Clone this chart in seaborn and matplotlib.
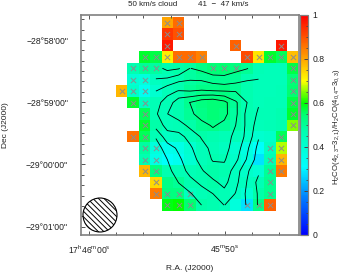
import numpy as np
import pandas as pd
import seaborn as sns
import matplotlib
matplotlib.use('Agg')
import matplotlib.pyplot as plt
from matplotlib.colors import LinearSegmentedColormap
from matplotlib.patches import Circle
from matplotlib.ticker import FixedLocator

n = np.nan

# line ratio map, one list per row (16 columns), top row first
r00 = [n, n, n, n, .80, .87, n, n, n, n, n, n, n, n, n, n]
r01 = [n, n, n, n, .93, .90, n, n, n, n, n, n, n, n, n, n]
r02 = [n, n, n, n, .97, n, n, n, n, n, .88, n, n, n, .97, n]
r03 = [n, n, .58, .57, .72, .87, .87, .84, n, n, n, .91, .73, .58, .56, .77]
r04 = [n, .47, .50, .49, .47, .48, .49, .52, .54, .55, .53, .50, .46, .45, .45, .57]
r05 = [n, .40, .38, .44, .45, .47, .49, .50, .51, .51, .50, .47, .45, .45, .45, .54]
r06 = [.78, .42, .34, .41, .45, .47, .50, .52, .52, .53, .50, .47, .45, .45, .46, .55]
r07 = [n, .58, .44, .46, .46, .47, .51, .53, .54, .54, .50, .47, .45, .46, .46, .57]
r08 = [n, n, .56, .46, .45, .47, .50, .52, .54, .53, .49, .47, .46, .46, .47, .58]
r09 = [n, n, .58, .48, .45, .46, .48, .51, .52, .50, .48, .46, .45, .46, .47, .65]
r10 = [n, .86, .56, .46, .43, .44, .46, .48, .47, .46, .45, .43, .41, .42, .56, n]
r11 = [n, n, .49, .38, .35, .36, .41, .45, .46, .44, .41, .37, .32, .44, .67, n]
r12 = [n, n, .47, .36, .32, .34, .40, .45, .47, .46, .42, .38, .28, .46, .78, n]
r13 = [n, n, .78, .53, .47, .46, .46, .47, .48, .47, .44, .42, .40, .50, .85, n]
r14 = [n, n, n, .74, .52, .50, .47, .47, .48, .46, .44, .44, .46, .51, n, n]
r15 = [n, n, n, .85, .53, .53, .44, .46, .47, .46, .43, .40, .48, .51, n, n]
r16 = [n, n, n, n, .59, .60, .55, .48, .47, .46, .38, .28, .52, .88, n, n]
ratio = pd.DataFrame([r00, r01, r02, r03, r04, r05, r06, r07, r08, r09, r10, r11, r12, r13, r14, r15, r16])

# cells flagged with an X, columns per row
flagged = {0: [4, 5], 1: [4, 5], 2: [4, 10, 14], 3: [2, 3, 4, 5, 6, 7, 11, 12, 13, 14, 15],
           4: [1, 2, 3, 8, 9, 10, 15], 5: [1, 2, 15], 6: [0, 1, 2, 15], 7: [1, 2, 15], 8: [2, 15], 9: [2, 15],
           10: [1, 2, 14], 11: [2, 3, 13, 14], 12: [2, 3, 13, 14], 13: [2, 3, 13, 14],
           14: [3, 13], 15: [3, 4, 5, 6, 13], 16: [4, 5, 6, 11, 12, 13]}

# integrated intensity behind the contours (rows 4-16, columns 3-12), one list per column
contour_rows = np.arange(4, 17)
contour_cols = np.arange(3, 13)
i03 = [.4, 1.05, 2.0, 2.7, 2.85, 2.4, 1.1, .5, .4, .3, .3, .3, .3]
i04 = [-.3, 1.23, 2.7, 3.4, 3.98, 3.35, 2.6, 1.5, 1.0, .7, .5, .4, .4]
i05 = [-.1, 1.77, 3.05, 4.6, 4.6, 3.5, 2.7, 2.2, 1.8, 1.5, 1.02, .7, .5]
i06 = [1.02, 1.95, 3.0, 5.02, 4.8, 4.3, 3.3, 2.85, 2.6, 2.3, 1.7, .9, .6]
i07 = [.7, 1.9, 3.1, 5.6, 5.4, 4.7, 4.1, 3.6, 3.3, 2.9, 2.2, 1.6, 1.0]
i08 = [.3, 1.49, 3.05, 5.8, 5.7, 5.1, 4.6, 4.3, 4.1, 3.5, 2.8, 2.0, 1.3]
i09 = [.5, 1.3, 3.0, 5.3, 5.3, 4.75, 4.5, 4.3, 4.1, 3.7, 3.3, 2.7, 2.02]
i10 = [.7, 1.6, 2.95, 4.15, 4.2, 4.0, 3.7, 3.6, 3.25, 2.5, 2.3, 1.95, 1.5]
i11 = [.95, 1.95, 2.5, 3.0, 2.71, 2.76, 2.73, 2.2, 1.9, 1.15, .95, .8, .94]
i12 = [1.6, 2.02, 2.3, 2.1, 1.85, 1.5, 1.1, .7, .5, .2, -.3, -.1, -.1]
intensity = np.array([i03, i04, i05, i06, i07, i08, i09, i10, i11, i12]).T
contour_levels = [0, 1, 2, 3, 4, 5]

dec_labels = ["\u221228\u00b058'00\"", "\u221228\u00b059'00\"", "\u221229\u00b000'00\"", "\u221229\u00b001'00\""]
ra_labels = [r'17$^{\rm h}$46$^{\rm m}$00$^{\rm s}$', r'45$^{\rm m}$50$^{\rm s}$']

plt.rcParams['font.family'] = ['Liberation Sans', 'DejaVu Sans']
plt.rcParams['mathtext.fontset'] = 'custom'
plt.rcParams['mathtext.rm'] = 'Liberation Sans'
plt.rcParams['mathtext.default'] = 'regular'
plt.rcParams['hatch.linewidth'] = 0.7

W, H = 342, 273
cell = 11.4
x0, y0 = 116, 17  # pixel corner of cell (0, 0)
grey = '#808080'
txt = '#222222'

cmap = LinearSegmentedColormap.from_list('ratio', [(0, '#0000ff'), (.17, '#0080ff'), (.31, '#00ffff'),
                                                   (.47, '#00ffb0'), (.55, '#00ff70'), (.6, '#00ff00'),
                                                   (.70, '#ffff00'), (.80, '#ffa500'), (1, '#ff0000')])

fig = plt.figure(figsize=(W / 100, H / 100), dpi=100)
ax = fig.add_axes([81 / W, 1 - 235 / H, 218 / W, 220 / H])
cax = fig.add_axes([300 / W, 1 - 235 / H, 8 / W, 220 / H])

sns.heatmap(ratio, ax=ax, cbar_ax=cax, cmap=cmap, vmin=0, vmax=1, xticklabels=False, yticklabels=False)

fx = [c + .5 for r, cols in flagged.items() for c in cols]
fy = [r + .5 for r, cols in flagged.items() for c in cols]
sns.scatterplot(x=fx, y=fy, ax=ax, marker='x', s=14, color='#8c8c8c', linewidth=.7, legend=False, zorder=3)

ax.contour(contour_cols + .5, contour_rows + .5, intensity, levels=contour_levels, colors='black', linewidths=.6,
           linestyles='solid', zorder=4)

ax.add_patch(Circle(((100 - x0) / cell, (215 - y0) / cell), 17 / cell, facecolor='white', edgecolor='black',
                    hatch='\\\\\\\\\\\\', linewidth=.8, zorder=5))

ax.set_xlim((81 - x0) / cell, (299 - x0) / cell)
ax.set_ylim((235 - y0) / cell, (15 - y0) / cell)
ax.set_xlabel('')
ax.set_ylabel('')

# sky axes: 13.6 px per second of RA, 62 px per arcmin of Dec
ra_major = [(89 - x0) / cell, (225 - x0) / cell]
ra_minor = [(89 + 27.2 * i - x0) / cell for i in range(8)]
dec_major = [(40 + 62.2 * i - y0) / cell for i in range(4)]
dec_minor = [(40 + 10.37 * i - y0) / cell for i in range(-2, 19)]
ax.xaxis.set_major_locator(FixedLocator(ra_major))
ax.xaxis.set_minor_locator(FixedLocator(ra_minor))
ax.yaxis.set_major_locator(FixedLocator(dec_major))
ax.yaxis.set_minor_locator(FixedLocator(dec_minor))
ax.set_xticklabels(ra_labels, fontsize=6.2, color=txt)
ax.set_yticklabels(dec_labels, fontsize=6.2, color=txt)
ax.tick_params(which='major', direction='in', top=True, right=False, length=3.2, width=.7, color='#555555', pad=6)
ax.tick_params(axis='y', which='major', pad=9.4)
ax.tick_params(which='minor', direction='in', top=True, right=False, length=2, width=.7, color='#555555')
for s in ax.spines.values():
    s.set_visible(True)
    s.set_color(grey)
    s.set_linewidth(1.2)

cbar = ax.collections[0].colorbar
cbar.set_ticks([0, .2, .4, .6, .8, 1], labels=['0', '0.2', '0.4', '0.6', '0.8', '1'])
cbar.set_ticks(np.arange(0, 1.01, .05), minor=True)
cax.tick_params(which='major', direction='in', length=3, width=.7, color='#444444', labelsize=6.2, labelcolor=txt, pad=3)
cax.tick_params(which='minor', direction='in', length=1.8, width=.6, color='#444444')
cbar.outline.set_visible(True)
cbar.outline.set_edgecolor(grey)
cbar.outline.set_linewidth(.9)

fig.text(128 / W, 1 - 4 / H, '50 km/s cloud', fontsize=5.8, color=txt, ha='left', va='center')
fig.text(198 / W, 1 - 4 / H, '41  \u2212  47 km/s', fontsize=5.8, color=txt, ha='left', va='center')
fig.text(190 / W, 1 - 268 / H, 'R.A. (J2000)', fontsize=6, color=txt, ha='center', va='center')
fig.text(6 / W, 1 - 125 / H, 'Dec (J2000)', fontsize=6, color=txt, rotation=90, ha='center', va='center')
fig.text(337 / W, 1 - 127 / H, r'H$_2$CO(4$_{2,3}$$-$3$_{2,1}$)/H$_2$CO(4$_{0,4}$$-$3$_{0,3}$)', fontsize=5.6, color=txt,
         rotation=90, ha='center', va='center')

fig.savefig('out.png', dpi=100, facecolor='white')
